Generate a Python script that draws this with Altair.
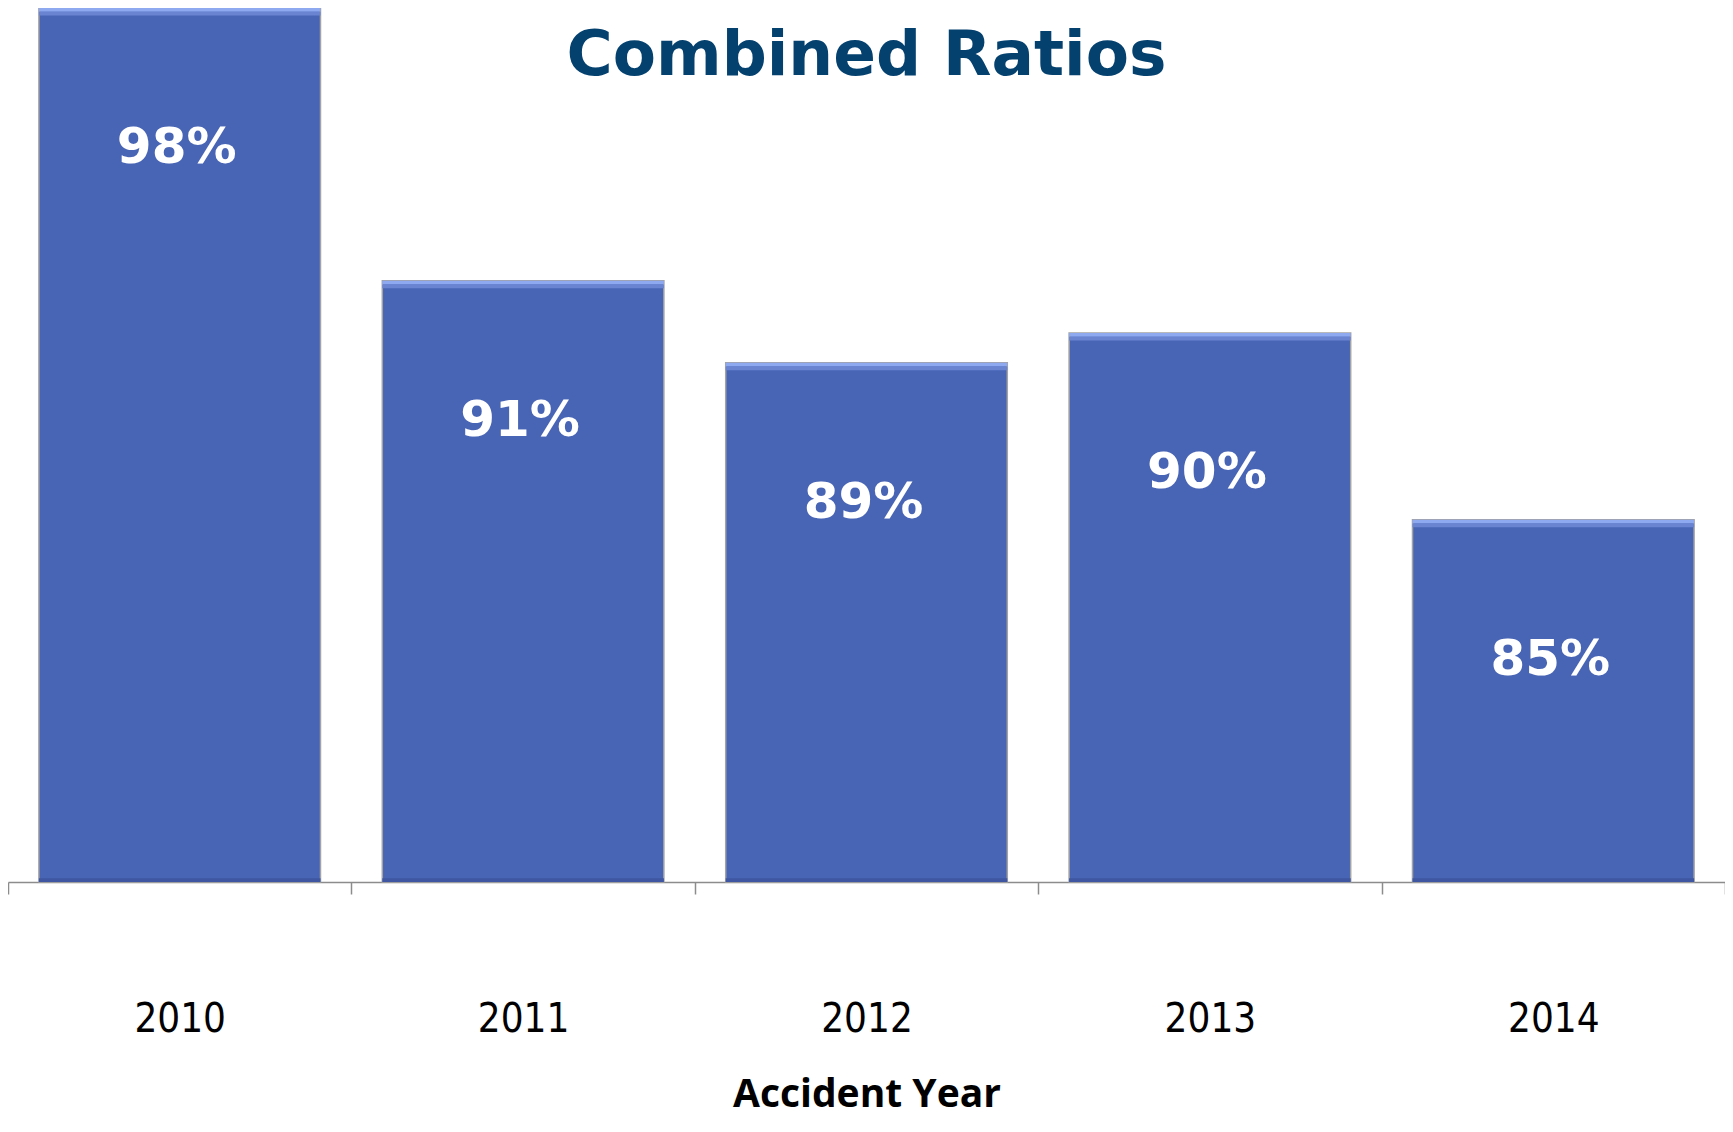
import altair as alt
import pandas as pd

years = ["2010", "2011", "2012", "2013", "2014"]
ratios = [98.4, 91.1, 88.9, 89.7, 84.7]
labels = ["98%", "91%", "89%", "90%", "85%"]

Y_MIN = 75
Y_MAX = 98.4

df = pd.DataFrame({"year": years, "ratio": ratios, "label": labels})

BAR = "#4864B4"
BAR_BAND = alt.RelativeBandSize(0.82)

x_enc = alt.X(
    "year:N",
    sort=None,
    title="Accident Year",
    scale=alt.Scale(paddingInner=0, paddingOuter=0),
    axis=alt.Axis(
        labelAngle=0,
        domainColor="#8c8c8c",
        domainWidth=1.5,
        tickColor="#8c8c8c",
        tickWidth=1.5,
        tickSize=12,
        tickBand="extent",
        labelFont="DejaVu Sans Condensed, DejaVu Sans",
        labelFontSize=40,
        labelColor="#000000",
        labelBaseline="alphabetic",
        labelPadding=137,
        titleFont="Open Sans",
        titleFontSize=39,
        titleFontWeight="bold",
        titleColor="#000000",
        titleBaseline="alphabetic",
        titleY=224,
    ),
)
y_scale = alt.Scale(domain=[Y_MIN, Y_MAX], zero=False, nice=False)

base = alt.Chart(df)

bars = base.transform_calculate(base_v=str(Y_MIN)).mark_bar(
    color=BAR, stroke="#a3a3a3", strokeWidth=1.5, width=BAR_BAND
).encode(
    x=x_enc,
    y=alt.Y("ratio:Q", scale=y_scale, axis=None),
    y2="base_v:Q",
)

top_strip1 = base.transform_calculate(t2="datum.ratio - 0.1").mark_bar(
    color="#8ea9ef", width=BAR_BAND
).encode(
    x=x_enc,
    y=alt.Y("ratio:Q", scale=y_scale, axis=None),
    y2="t2:Q",
)

top_strip2 = base.transform_calculate(
    t1="datum.ratio - 0.1", t2="datum.ratio - 0.2"
).mark_bar(color="#6a84d2", width=BAR_BAND).encode(
    x=x_enc,
    y=alt.Y("t1:Q", scale=y_scale, axis=None),
    y2="t2:Q",
)

bottom_strip = base.transform_calculate(
    b1=str(Y_MIN + 0.1), b2=str(Y_MIN)
).mark_bar(color="#3f57a2", width=BAR_BAND).encode(
    x=x_enc,
    y=alt.Y("b1:Q", scale=y_scale, axis=None),
    y2="b2:Q",
)

text = base.mark_text(
    font="DejaVu Sans",
    fontWeight="bold",
    fontSize=50,
    color="white",
    baseline="alphabetic",
    align="center",
    dx=-3,
    dy=155,
).encode(
    x=x_enc,
    y=alt.Y("ratio:Q", scale=y_scale, axis=None),
    text="label:N",
)

chart = (
    alt.layer(bars, bottom_strip, top_strip1, top_strip2, text)
    .properties(
        width=1717,
        height=874,
        title=alt.TitleParams(
            "Combined Ratios",
            font="DejaVu Sans",
            fontSize=63,
            fontWeight="bold",
            color="#04416F",
            anchor="middle",
            baseline="alphabetic",
            offset=0,
            dy=131,
        ),
        autosize=alt.AutoSizeParams(type="none"),
        padding={"left": 0, "top": 0, "right": 0, "bottom": 236},
        background="white",
    )
    .configure_view(stroke=None)
)

chart.save("out.html", embed_options={"renderer": "svg", "actions": False})
